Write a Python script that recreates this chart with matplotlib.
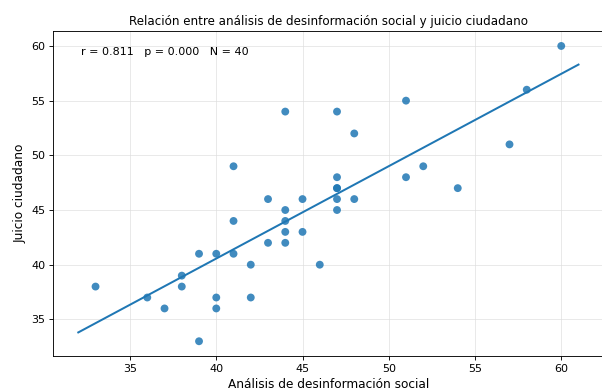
import numpy as np
import matplotlib
matplotlib.use("Agg")
import matplotlib.pyplot as plt

# Puntuaciones por participante
analisis = [33, 36, 37, 38, 38, 39, 39, 40, 40, 40,
            41, 41, 41, 42, 42, 43, 43, 44, 44, 44,
            44, 44, 45, 45, 46, 47, 47, 47, 47, 47,
            47, 48, 48, 51, 51, 52, 54, 57, 58, 60]
juicio = [38, 37, 36, 39, 38, 41, 33, 41, 37, 36,
          41, 44, 49, 40, 37, 42, 46, 45, 44, 43,
          42, 54, 43, 46, 40, 54, 48, 47, 47, 46,
          45, 52, 46, 55, 48, 49, 47, 51, 56, 60]

TITLE = "Relación entre análisis de desinformación social y juicio ciudadano"
XLABEL = "Análisis de desinformación social"
YLABEL = "Juicio ciudadano"
STATS = "r = 0.811   p = 0.000   N = 40"

C1 = "#1f77b4"

x = np.array(analisis, dtype=float)
y = np.array(juicio, dtype=float)
slope, intercept = np.polyfit(x, y, 1)
xs = np.array([x.min() - 1, x.max() + 1])

fig = plt.figure(figsize=(602 / 80, 392 / 80), dpi=80)
ax = fig.add_axes([0.0885, 0.0918, 0.9140, 0.8286])

ax.scatter(x, y, s=50, color=C1, alpha=0.85, edgecolors="none", zorder=3)
ax.plot(xs, slope * xs + intercept, color=C1, lw=1.8, zorder=2)

ax.spines["right"].set_visible(False)
ax.grid(True, color="#dddddd", lw=0.8, alpha=0.7)
ax.set_axisbelow(True)
ax.set_title(TITLE, fontsize=10.7)
ax.set_xlabel(XLABEL, fontsize=10.9)
ax.set_ylabel(YLABEL, fontsize=10.9)
ax.text(0.05, 0.95, STATS, transform=ax.transAxes, ha="left", va="top", fontsize=10)

fig.savefig("out.png", dpi=80)
